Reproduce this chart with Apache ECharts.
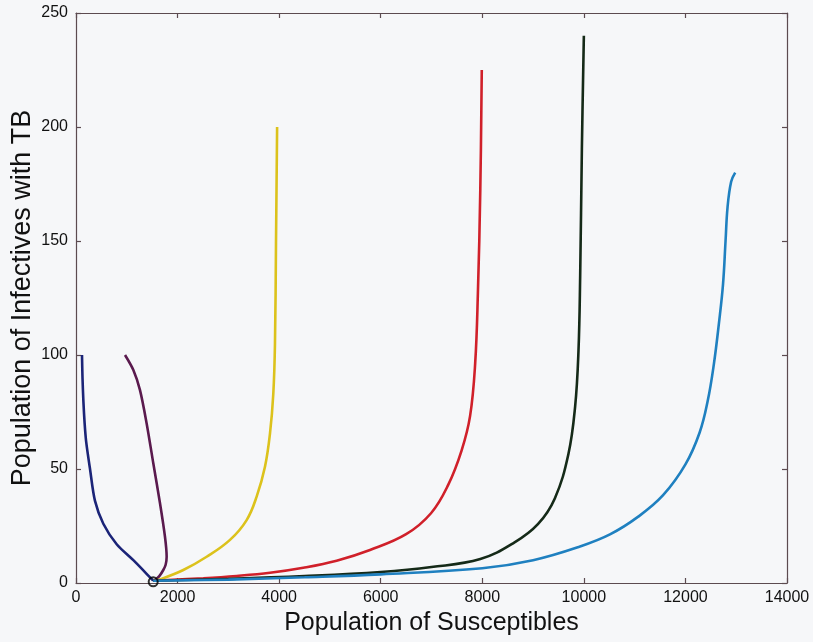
<!DOCTYPE html>
<html>
<head>
<meta charset="utf-8">
<script src="https://cdn.jsdelivr.net/npm/echarts@6/dist/echarts.min.js"></script>
<style>
html,body{margin:0;padding:0;background:#f6f7f9;}
#c{width:813px;height:642px;}
</style>
</head>
<body>
<div id="c"></div>
<script>
// Axis ticks
const xTicks = [0, 2000, 4000, 6000, 8000, 10000, 12000, 14000];
const yTicks = [0, 50, 100, 150, 200, 250];

// Trajectories (S = susceptibles, I = infectives)
const navyS   = [118, 128, 145, 170, 200, 276, 374, 538, 801, 1129, 1457, 1520];
const navyI   = [100, 90, 80, 70, 62, 50, 36, 26, 17, 10, 2.5, 1];
const purpleS = [965, 1129, 1260, 1391, 1522, 1654, 1752, 1785, 1765, 1719, 1640, 1555, 1520];
const purpleI = [100, 93.4, 84.6, 70, 52.5, 35, 20.3, 11.5, 8, 5.7, 3, 1.3, 1];
const yellowS = [1520, 1654, 2113, 2573, 3032, 3360, 3557, 3721, 3820, 3885, 3918, 3938, 3960];
const yellowI = [1, 1.6, 5.7, 11.5, 18.9, 27.6, 37.9, 51, 65.6, 83, 105, 149, 200];
const redS    = [1520, 2507, 3164, 3820, 4475, 5132, 5789, 6500, 6990, 7324, 7592, 7760, 7860, 7913, 7961, 7990];
const redI    = [1, 2.1, 3.1, 4.5, 6.7, 9.8, 14.5, 21.4, 30.6, 42.8, 58.1, 73.3, 96.3, 126.8, 172.7, 225];
const greenS  = [1520, 3000, 4500, 6000, 7000, 7961, 8628, 9095, 9428, 9695, 9828, 9894, 9927, 9961, 10000];
const greenI  = [1, 1.8, 3, 4.8, 7, 10.5, 17.7, 25.8, 37.1, 56.5, 77.4, 101.7, 134, 190.4, 240];
const blueS   = [1520, 3000, 4500, 6000, 8000, 9000, 9923, 10514, 11071, 11560, 12000, 12280, 12440, 12560, 12660, 12740, 12790, 12830, 12900, 12980];
const blueI   = [1, 1.5, 2.5, 3.8, 6.5, 10, 16, 21.3, 29.1, 38.5, 52, 66, 80, 96, 114, 131, 150, 165, 176, 180];
const eqS = [1520];
const eqI = [0.5];

const zip = (a, b) => a.map((v, i) => [v, b[i]]);
const FONT = 'Liberation Sans, Arial, sans-serif';
const AX = '#5c4b50';

function lineSeries(s, i, color, sm) {
  return {
    type: 'line', data: zip(s, i), smooth: sm, showSymbol: false,
    lineStyle: { color: color, width: 2.6 }, z: 3
  };
}

const tickStyle = { show: true, inside: true, length: 5, lineStyle: { color: AX, width: 1.2 } };
const lineStyleAx = { show: true, onZero: false, lineStyle: { color: AX, width: 1.2 } };

const chart = echarts.init(document.getElementById('c'), null, { renderer: 'canvas' });
chart.setOption({
  backgroundColor: '#f6f7f9',
  animation: false,
  grid: { left: 76, right: 26, top: 13, bottom: 59, containLabel: false, outerBoundsMode: 'none' },
  xAxis: [{
    type: 'value', min: xTicks[0], max: xTicks[xTicks.length - 1], interval: 2000,
    name: 'Population of Susceptibles', nameLocation: 'middle', nameGap: 28, nameMoveOverlap: false,
    nameTextStyle: { fontSize: 25, fontFamily: FONT, color: '#111' },
    axisLine: lineStyleAx,
    axisTick: tickStyle,
    axisLabel: { fontSize: 16, fontFamily: FONT, color: '#111', margin: 7, formatter: v => String(v) },
    splitLine: { show: false }
  }, {
    type: 'value', position: 'top', min: xTicks[0], max: xTicks[xTicks.length - 1], interval: 2000,
    axisLine: lineStyleAx,
    axisTick: tickStyle,
    axisLabel: { show: false }, splitLine: { show: false }
  }],
  yAxis: [{
    type: 'value', min: yTicks[0], max: yTicks[yTicks.length - 1], interval: 50,
    name: 'Population of Infectives with TB', nameLocation: 'middle', nameGap: 40, nameMoveOverlap: false,
    nameTextStyle: { fontSize: 27, fontFamily: FONT, color: '#111' },
    axisLine: lineStyleAx,
    axisTick: tickStyle,
    axisLabel: { fontSize: 16, fontFamily: FONT, color: '#111', margin: 8, formatter: v => String(v) },
    splitLine: { show: false }
  }, {
    type: 'value', position: 'right', min: yTicks[0], max: yTicks[yTicks.length - 1], interval: 50,
    axisLine: lineStyleAx,
    axisTick: tickStyle,
    axisLabel: { show: false }, splitLine: { show: false }
  }],
  series: [
    lineSeries(navyS, navyI, '#1b2478', 0.3),
    lineSeries(purpleS, purpleI, '#5a1a4e', 0.3),
    lineSeries(yellowS, yellowI, '#dcc21c', 0.4),
    lineSeries(redS, redI, '#d0202a', 0.4),
    lineSeries(greenS, greenI, '#152a18', 0.4),
    lineSeries(blueS, blueI, '#1f80c0', 0.4),
    {
      type: 'scatter', data: zip(eqS, eqI), symbol: 'circle', symbolSize: 9,
      itemStyle: { color: 'rgba(0,0,0,0)', borderColor: '#000', borderWidth: 2 }, z: 5
    }
  ]
});
</script>
</body>
</html>
